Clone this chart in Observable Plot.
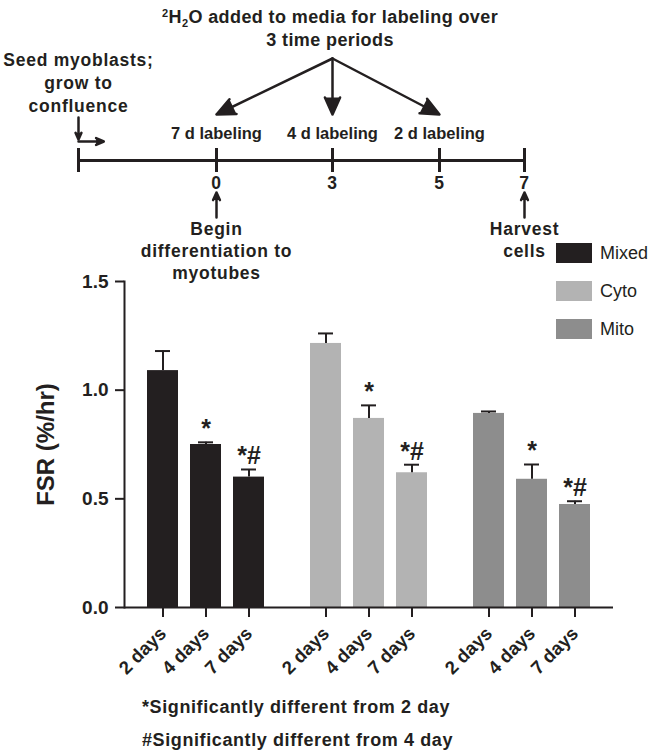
<!DOCTYPE html>
<html>
<head>
<meta charset="utf-8">
<script src="https://cdn.jsdelivr.net/npm/d3@7"></script>
<script src="https://cdn.jsdelivr.net/npm/@observablehq/plot@0.6"></script>
<style>
  html, body { margin: 0; padding: 0; background: #fff; }
  #root { position: relative; width: 657px; height: 752px; overflow: hidden;
          font-family: "Liberation Sans", Arial, sans-serif; color: #231f20; }
  #root > * { position: absolute; }
  .title { left: 0; width: 660px; text-align: center; font-weight: bold; font-size: 18px;
           line-height: 23px; top: 6px; letter-spacing: 0.4px; white-space: nowrap; }
  .title .sup, .title .sub { font-size: 11px; line-height: 0; display: inline-block; }
  .title .sup { transform: translateY(-6px); }
  .title .sub { transform: translateY(4px); }
  .note { left: 142px; font-weight: bold; font-size: 18px; line-height: 18px;
          letter-spacing: 0.6px; white-space: nowrap; }
  .lg-swatches { margin: 0 !important; }
  .lg-swatch { padding-bottom: 18px !important; line-height: 20px !important; }
  .lg-swatch > svg { margin-right: 8px !important; }
</style>
</head>
<body>
<div id="root"></div>
<script>
// ---------- data ----------
const groups = ["Mixed", "Cyto", "Mito"];
const periods = ["2 days", "4 days", "7 days"];
const fsrMixed = [1.09, 0.75, 0.60];
const semMixed = [0.09, 0.01, 0.035];
const fsrCyto = [1.215, 0.87, 0.62];
const semCyto = [0.046, 0.06, 0.037];
const fsrMito = [0.893, 0.59, 0.474];
const semMito = [0.009, 0.068, 0.015];
const significance = ["", "*", "*#"];
const groupColors = ["#231f20", "#b3b3b3", "#8d8d8d"];
const yTicks = [0, 0.5, 1.0, 1.5];
const yLabel = "FSR (%/hr)";
const footnotes = ["*Significantly different from 2 day", "#Significantly different from 4 day"];

// timeline schematic (schematic, not to scale)
const seedDay = -3;
const timelineDays = [0, 3, 5, 7];
const labelingStarts = [0, 3, 5];
const harvestDay = 7;
const seedText = "Seed myoblasts;\ngrow to\nconfluence";
const events = [
  {day: 0, text: "Begin\ndifferentiation to\nmyotubes"},
  {day: 7, text: "Harvest\ncells"}
];

// ---------- table ----------
const series = {Mixed: [fsrMixed, semMixed], Cyto: [fsrCyto, semCyto], Mito: [fsrMito, semMito]};
const rows = groups.flatMap(g => periods.map((p, i) => ({
  group: g, period: p, fsr: series[g][0][i], sem: series[g][1][i], sig: significance[i]
})));

const FONT = "'Liberation Sans', Arial, sans-serif";
const INK = "#231f20";

// ---------- bar chart ----------
const chart = Plot.plot({
  width: 657, height: 502,
  marginLeft: 123, marginRight: 44, marginTop: 31, marginBottom: 145,
  style: {fontFamily: FONT, fontWeight: "bold", fontSize: "18px", color: INK,
          background: "none", overflow: "visible"},
  fx: {domain: groups, padding: 0, axis: null},
  x: {domain: periods, paddingInner: 0.27, paddingOuter: 0.49},
  y: {domain: [0, 1.5]},
  color: {domain: groups, range: groupColors},
  marks: [
    Plot.barY(rows, {fx: "group", x: "period", y: "fsr", fill: "group"}),
    Plot.ruleX(rows, {fx: "group", x: "period", y1: "fsr", y2: d => d.fsr + d.sem, stroke: INK, strokeWidth: 2}),
    Plot.tickY(rows, {fx: "group", x: "period", y: d => d.fsr + d.sem, insetLeft: 8, insetRight: 8, stroke: INK, strokeWidth: 2}),
    Plot.text(rows.filter(d => d.sig), {fx: "group", x: "period", y: d => d.fsr + d.sem, text: "sig",
      lineAnchor: "bottom", dy: -5, fontSize: 25, fill: INK}),
    Plot.ruleY([0], {stroke: INK, strokeWidth: 2}),
    Plot.frame({anchor: "left", facetAnchor: "left", stroke: INK, strokeWidth: 2}),
    Plot.axisY({ticks: yTicks, tickFormat: d => d.toFixed(1), tickSize: 9, tickPadding: 7,
      strokeWidth: 2, label: null, fontSize: 19}),
    Plot.axisX({tickRotate: -45, tickSize: 10, tickPadding: 13, strokeWidth: 2, label: null, fontSize: 18.5}),
    Plot.text([yLabel], {text: d => d, frameAnchor: "left", facetAnchor: "left", rotate: -90,
      textAnchor: "middle", dx: -71, lineAnchor: "bottom", fontSize: 24, fill: INK})
  ]
});
chart.style.left = "0px";
chart.style.top = "250px";

// ---------- schematic ----------
const Y = {apex: 58, arrowTip: 114, labelBase: 138, line: 160, tickTop: 148, tickBottom: 172,
           numBase: 188, upTail: 217, upTip: 192, eventTop: 218.5, seedTop: 49.5,
           seedTail: 117, seedTip: 139, seedRight: 141};
const apexDay = labelingStarts[1];
const arrowStyle = {stroke: INK, fill: INK, strokeWidth: 2.5, headLength: 12, headAngle: 48};

const schematic = Plot.plot({
  width: 657, height: 300,
  marginLeft: 78, marginRight: 133, marginTop: 0, marginBottom: 0,
  style: {fontFamily: FONT, fontWeight: "bold", fontSize: "17.5px", color: INK,
          background: "none", overflow: "visible", letterSpacing: "0.75px"},
  // the drawing is not to scale: each stop of the timeline gets its own place (piecewise linear)
  x: {type: "linear", domain: [seedDay, ...timelineDays], range: [78, 216, 332, 439, 524], axis: null},
  y: {type: "linear", domain: [0, 300], reverse: true, axis: null},
  marks: [
    Plot.ruleY([Y.line], {x1: seedDay, x2: harvestDay, stroke: INK, strokeWidth: 3}),
    Plot.ruleX([seedDay, ...timelineDays], {x: d => d, y1: Y.tickTop, y2: Y.tickBottom, stroke: INK, strokeWidth: 3}),
    Plot.text(timelineDays, {x: d => d, y: Y.numBase, text: d => String(d), lineAnchor: "bottom", fill: INK}),
    Plot.text(labelingStarts, {x: d => d, y: Y.labelBase, text: d => `${harvestDay - d} d labeling`,
      lineAnchor: "bottom", fill: INK, fontSize: 16.5}),
    Plot.arrow(labelingStarts, {x1: apexDay, y1: Y.apex, x2: d => d, y2: Y.arrowTip, ...arrowStyle}),
    Plot.text([seedText], {text: d => d, x: seedDay, y: Y.seedTop, lineAnchor: "top", lineHeight: 1.314, fill: INK}),
    Plot.arrow([seedDay], {x1: d => d, x2: d => d, y1: Y.seedTail, y2: Y.seedTip, ...arrowStyle}),
    Plot.arrow([seedDay], {x1: d => d, x2: d => d + 0.55, y1: Y.seedRight, y2: Y.seedRight, ...arrowStyle}),
    Plot.arrow(events, {x1: "day", x2: "day", y1: Y.upTail, y2: Y.upTip, ...arrowStyle}),
    Plot.text(events, {x: "day", y: Y.eventTop, text: "text", lineAnchor: "top", lineHeight: 1.257, fill: INK})
  ]
});
schematic.style.left = "0px";
schematic.style.top = "0px";
schematic.querySelectorAll("text").forEach(t => {
  if (/labeling/.test(t.textContent)) t.style.letterSpacing = "0px";
});

// ---------- legend ----------
const legend = chart.legend("color", {
  legend: "swatches", columns: 1, swatchWidth: 36, swatchHeight: 20, className: "lg",
  style: {fontFamily: FONT, fontSize: "18px", fontWeight: "normal", color: INK}
});
legend.style.left = "556px";
legend.style.top = "243px";

// ---------- title & notes ----------
const title = document.createElement("div");
title.className = "title";
title.innerHTML = '<span class="sup">2</span>H<span class="sub">2</span>O added to media for labeling over<br>3 time periods';

const root = document.getElementById("root");
root.append(chart, schematic, legend, title);
footnotes.forEach((t, i) => {
  const n = document.createElement("div");
  n.className = "note";
  n.textContent = t;
  n.style.top = (698 + 33 * i) + "px";
  root.append(n);
});
</script>
</body>
</html>
